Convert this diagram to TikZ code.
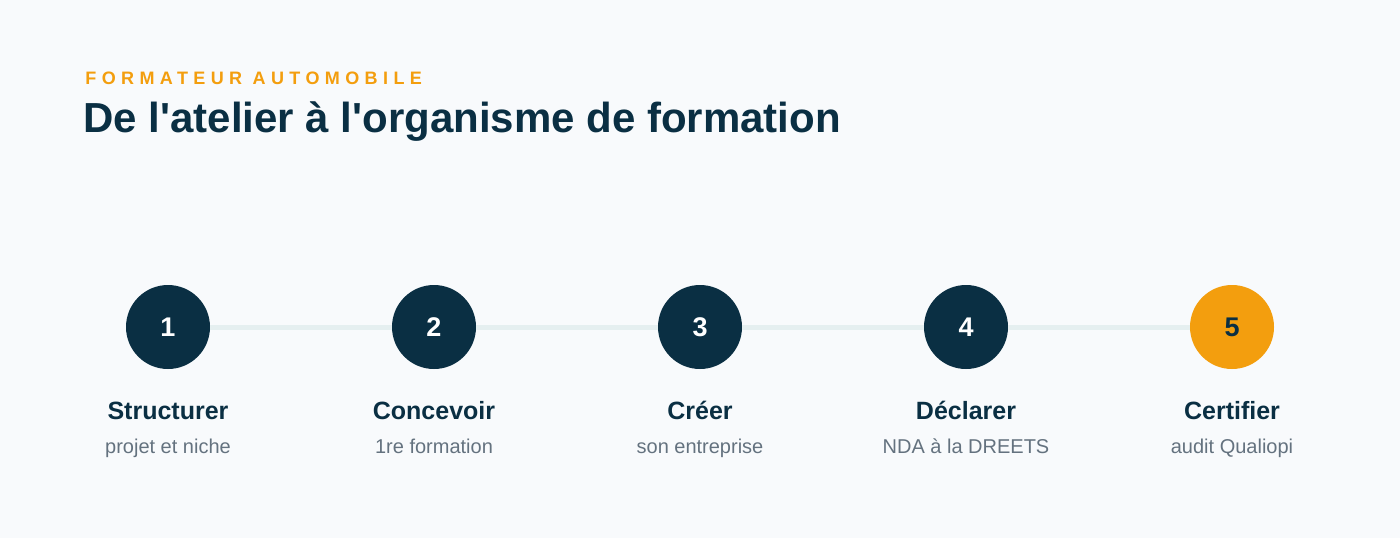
\documentclass[tikz,border=0pt]{standalone}
\usepackage{fontspec}
\setmainfont{Liberation Sans}
\usetikzlibrary{positioning}
\definecolor{navy}{HTML}{0A2F43}
\definecolor{amber}{HTML}{F39E0E}
\definecolor{track}{HTML}{E5EFF0}
\definecolor{subgrey}{HTML}{64727F}
\definecolor{pagebg}{HTML}{F8FAFC}

\begin{document}
\begin{tikzpicture}[x=1pt, y=-1pt, node distance={266pt}, thick,
    main/.style = {circle, fill=navy, minimum size=84pt, inner sep=0pt, text=white, font=\fontsize{27}{27}\selectfont\bfseries},
    last/.style = {main, fill=amber, text=navy},
    steptitle/.style = {anchor=base, inner sep=0pt, text=navy, font=\fontsize{25}{25}\selectfont\bfseries},
    stepsub/.style = {anchor=base, inner sep=0pt, text=subgrey, font=\fontsize{20}{20}\selectfont},
    link/.style = {draw=track, line width=5pt}]
            \fill[pagebg] (0,0) rectangle (1400,538);

            \node[anchor=base west, inner sep=0pt, text=amber, font=\fontsize{18}{18}\selectfont\bfseries\addfontfeatures{LetterSpace=30}] (kicker) at (85,84) {FORMATEUR AUTOMOBILE};
            \node[anchor=base west, inner sep=0pt, text=navy, font=\fontsize{42}{42}\selectfont\bfseries] (heading) at (83,132) {De l\textquotesingle atelier à l\textquotesingle organisme de formation};

            \node[main] (1) at (168,327) {1};
            \node[main] (2) [right of=1] {2};
            \node[main] (3) [right of=2] {3};
            \node[main] (4) [right of=3] {4};
            \node[last] (5) [right of=4] {5};

            \path[link] (1) edge (2);
            \path[link] (2) edge (3);
            \path[link] (3) edge (4);
            \path[link] (4) edge (5);

            \node[steptitle] (t1) at (168,419) {Structurer};
            \node[steptitle] (t2) at (434,419) {Concevoir};
            \node[steptitle] (t3) at (700,419) {Créer};
            \node[steptitle] (t4) at (966,419) {Déclarer};
            \node[steptitle] (t5) at (1232,419) {Certifier};

            \node[stepsub] (s1) at (168,453) {projet et niche};
            \node[stepsub] (s2) at (434,453) {1re formation};
            \node[stepsub] (s3) at (700,453) {son entreprise};
            \node[stepsub] (s4) at (966,453) {NDA à la DREETS};
            \node[stepsub] (s5) at (1232,453) {audit Qualiopi};
        \end{tikzpicture}
\end{document}
